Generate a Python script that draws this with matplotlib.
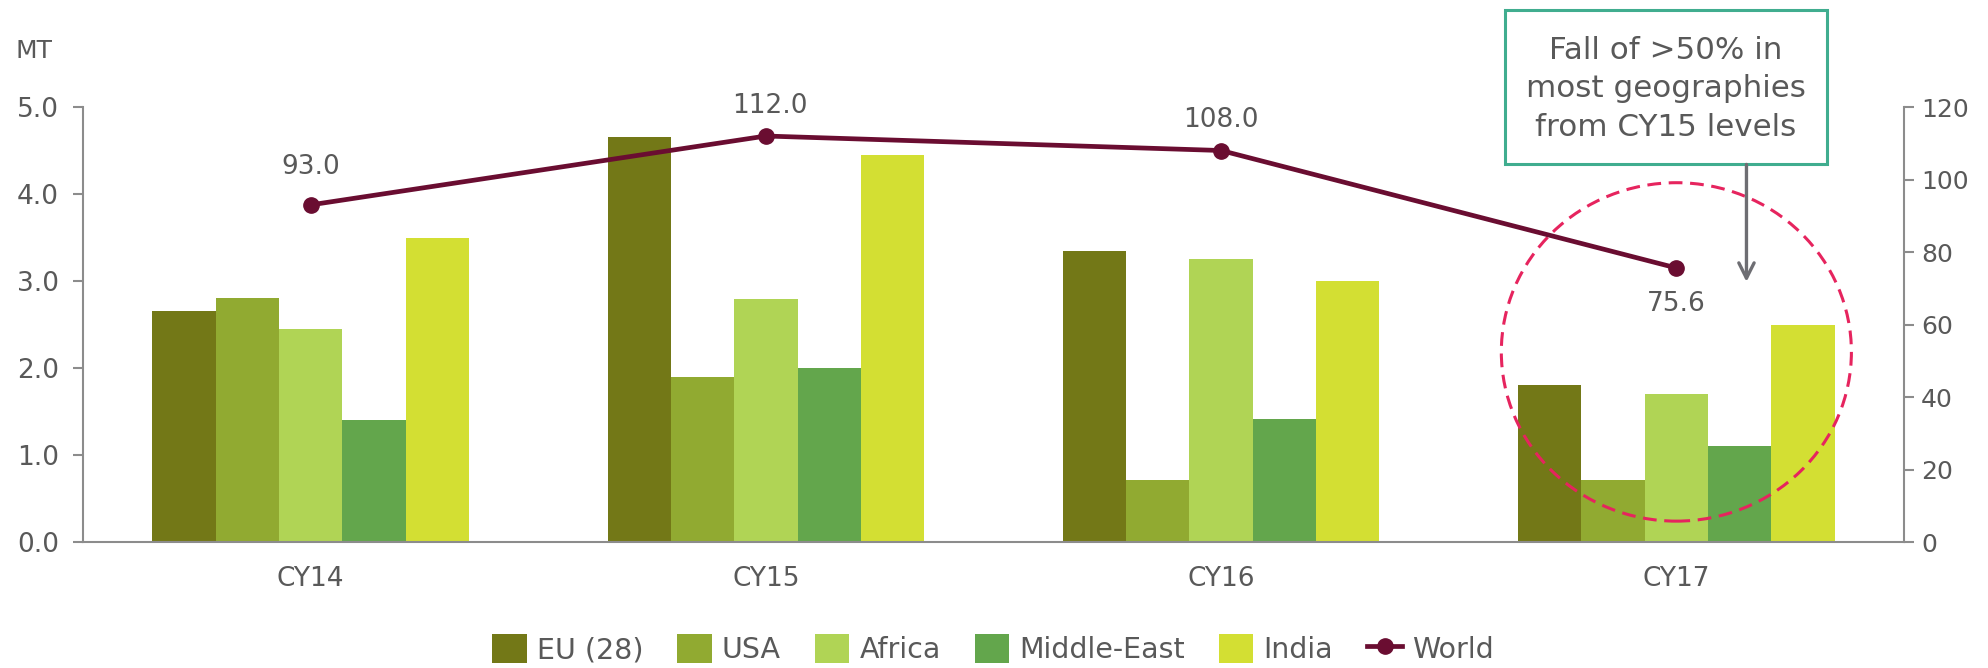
import numpy as np
import matplotlib.pyplot as plt
from matplotlib.patches import Ellipse, Rectangle

years = ["CY14", "CY15", "CY16", "CY17"]
eu = [2.65, 4.66, 3.35, 1.80]
usa = [2.80, 1.90, 0.71, 0.71]
africa = [2.45, 2.79, 3.25, 1.70]
middle_east = [1.40, 2.00, 1.41, 1.10]
india = [3.50, 4.45, 3.00, 2.50]
world = [93.0, 112.0, 108.0, 75.6]

region_names = ["EU (28)", "USA", "Africa", "Middle-East", "India"]
region_colors = ["#737817", "#91aa31", "#b0d455", "#63a64c", "#d3df33"]
WORLD_COLOR = "#6a0d31"
TEXT_COLOR = "#595959"
AXIS_COLOR = "#8c8c8c"

plt.rcParams["font.family"] = ["DejaVu Sans"]

fig = plt.figure(figsize=(19.88, 6.68), dpi=100)
ax = fig.add_axes([0.04175, 0.1886, 0.91599, 0.6512])
ax2 = ax.twinx()

xs = np.arange(len(years))
bar_w = 0.139
for i, (vals, name, col) in enumerate(zip([eu, usa, africa, middle_east, india], region_names, region_colors)):
    ax.bar(xs + (i - 2) * bar_w, vals, bar_w, color=col, label=name, zorder=2)

ax.set_xlim(-0.5, 3.5)
ax.set_ylim(0, 5)
ax.set_yticks(np.arange(0, 5.1, 1.0))
ax.set_yticklabels([f"{v:.1f}" for v in np.arange(0, 5.1, 1.0)])
ax.set_xticks(xs, years)

ax2.set_ylim(0, 120)
ax2.set_yticks(np.arange(0, 121, 20))
line, = ax2.plot(xs, world, color=WORLD_COLOR, lw=3.4, marker="o", ms=11, label="World", zorder=5)

# point labels (pixel offsets from the markers)
offsets = [(0, 38), (4, 30), (0, 31), (0, -36)]
for x, v, (dx, dy) in zip(xs, world, offsets):
    ax2.annotate(f"{v:.1f}", (x, v), xytext=(dx, dy), textcoords="offset pixels",
                 ha="center", va="center", fontsize=19, color=TEXT_COLOR)

for a in (ax, ax2):
    a.spines["top"].set_visible(False)
    for s in ("left", "right", "bottom"):
        a.spines[s].set_color(AXIS_COLOR)
        a.spines[s].set_linewidth(1.5)
ax.spines["right"].set_visible(False)
ax2.spines["left"].set_visible(False)
ax2.spines["bottom"].set_visible(False)

ax.tick_params(axis="y", length=7.2, width=1.5, color=AXIS_COLOR, labelsize=19,
               labelcolor=TEXT_COLOR, pad=10)
ax.tick_params(axis="x", length=0, labelsize=19, labelcolor=TEXT_COLOR, pad=17)
ax2.tick_params(axis="y", length=7.2, width=1.5, color=AXIS_COLOR, labelsize=18,
                labelcolor=TEXT_COLOR, pad=5)

fig.text(16 / 1988, 1 - 51 / 668, "MT", fontsize=18, color=TEXT_COLOR, ha="left", va="center")

# dashed circle around CY17
ax.add_patch(Ellipse((3.0, 2.185), 0.769, 3.89, fill=False, edgecolor="#e6245e",
                     lw=2.2, linestyle=(0, (4.5, 2.5)), zorder=6))

# callout box
box_x0, box_x1, box_y0, box_y1 = 2.623, 3.330, 4.34, 6.11
ax.add_patch(Rectangle((box_x0, box_y0), box_x1 - box_x0, box_y1 - box_y0, fill=True,
                       facecolor="white", edgecolor="#40ad8f", lw=2.2, clip_on=False, zorder=7))
ax.text((box_x0 + box_x1) / 2, 5.21, "Fall of >50% in\nmost geographies\nfrom CY15 levels",
        ha="center", va="center", fontsize=22.3, color=TEXT_COLOR, linespacing=1.42,
        clip_on=False, zorder=8)
ax.annotate("", xy=(3.154, 2.99), xytext=(3.154, box_y0),
            arrowprops=dict(arrowstyle="->,head_length=1.1,head_width=0.55", color="#6e6e73", lw=2.4,
                            shrinkA=0, shrinkB=0), zorder=7, annotation_clip=False)

handles, labels = ax.get_legend_handles_labels()
handles.append(line)
labels.append("World")
leg = fig.legend(handles, labels, loc="center", bbox_to_anchor=(0.4995, 1 - 649 / 668), ncol=6,
                 frameon=False, fontsize=20.5, handlelength=1.2, handleheight=1.2,
                 handletextpad=0.36, columnspacing=1.2, borderaxespad=0)
for t in leg.get_texts():
    t.set_color(TEXT_COLOR)

fig.savefig("out.png", dpi=100)
